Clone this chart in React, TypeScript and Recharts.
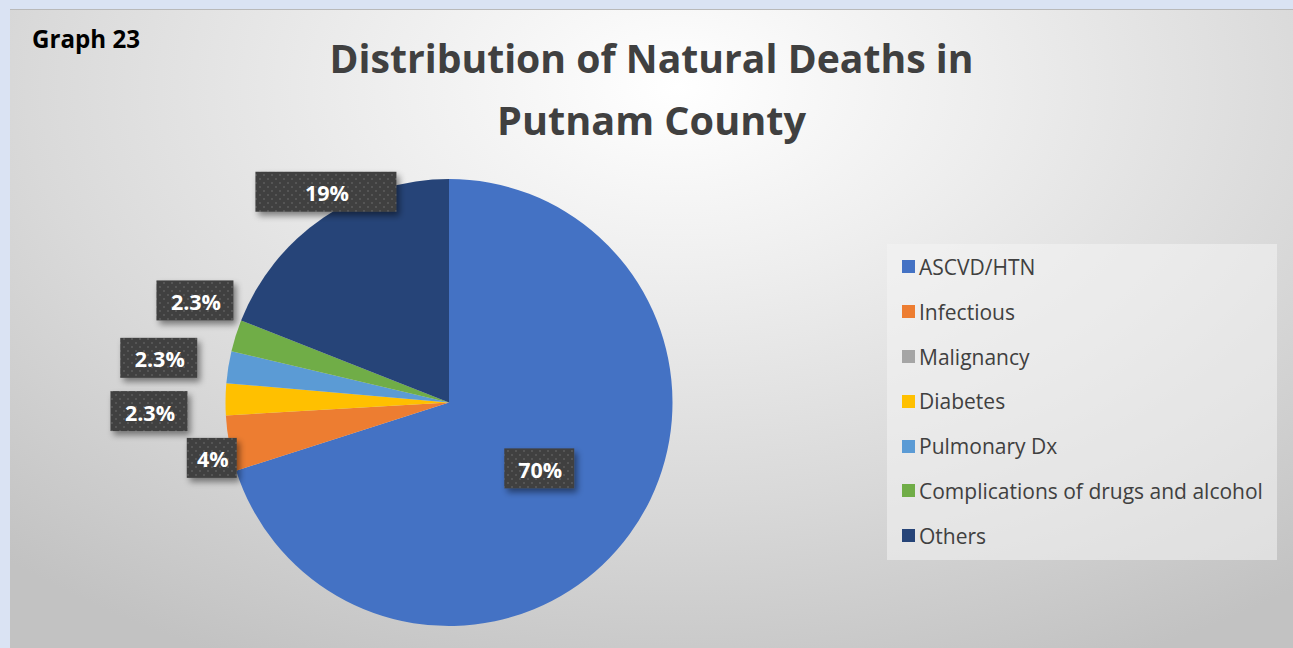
import React from "react";
import { PieChart, Pie, Cell, Legend } from "recharts";

const causes = [
  "ASCVD/HTN",
  "Infectious",
  "Malignancy",
  "Diabetes",
  "Pulmonary Dx",
  "Complications of drugs and alcohol",
  "Others",
];
const shares = [70, 4, 0, 2.3, 2.3, 2.3, 19];
const colors = ["#4472C4", "#ED7D31", "#A5A5A5", "#FFC000", "#5B9BD5", "#70AD47", "#264478"];

const data = causes.map((name, i) => ({ name, value: shares[i] }));

// where each data label box sits: k = distance as share of the pie radius, da = angle nudge, w = box width
const labelSpots = [
  { k: 0.5, da: 0, w: 70 },
  { k: 1.09, da: 2.6, w: 50 },
  { k: 0, da: 0, w: 0 },
  { k: 1.343, da: 2.45, w: 77 },
  { k: 1.314, da: 0.35, w: 77 },
  { k: 1.225, da: -4.5, w: 77 },
  { k: 1.092, da: -3.95, w: 141 },
];

const RAD = Math.PI / 180;
const FONT = "'Open Sans', 'Noto Sans', sans-serif";

const renderLabel = (props: any) => {
  const { cx, cy, midAngle, outerRadius, index, value } = props;
  if (!value) return null;
  const spot = labelSpots[index];
  const a = (midAngle + spot.da) * RAD;
  const x = cx + outerRadius * spot.k * Math.cos(a);
  const y = cy - outerRadius * spot.k * Math.sin(a);
  return (
    <g>
      <rect
        x={x - spot.w / 2}
        y={y - 20}
        width={spot.w}
        height={40}
        fill="url(#dots)"
        filter="url(#boxShadow)"
      />
      <text
        x={x + 1}
        y={y + 1}
        textAnchor="middle"
        dominantBaseline="central"
        fill="#ffffff"
        fontSize={21.5}
        fontWeight={700}
        fontFamily={FONT}
      >
        {value}%
      </text>
    </g>
  );
};

const renderLegend = () => (
  <div
    style={{
      width: 390,
      height: 316,
      boxSizing: "border-box",
      paddingTop: 0.6,
      background: "rgba(244,244,244,0.55)",
      fontFamily: FONT,
      fontSize: 21,
      color: "#404040",
    }}
  >
    {causes.map((c, i) => (
      <div key={c} style={{ height: 44.8, display: "flex", alignItems: "center" }}>
        <span
          style={{
            display: "inline-block",
            width: 13,
            height: 13,
            marginLeft: 15,
            marginRight: 4,
            background: colors[i],
          }}
        />
        <span style={{ whiteSpace: "nowrap" }}>{c}</span>
      </div>
    ))}
  </div>
);

export default function App() {
  return (
    <div
      style={{
        position: "absolute",
        left: 0,
        top: 0,
        width: 1293,
        height: 648,
        background: "#dae3f3",
        overflow: "hidden",
      }}
    >
      <div
        style={{
          position: "absolute",
          left: 10,
          top: 9,
          width: 1283,
          height: 639,
          borderTop: "1px solid #b9b9b9",
          boxSizing: "border-box",
          background:
            "radial-gradient(ellipse 78% 100% at 52% 12%, #ffffff 0%, #eeeeee 30%, #d9d9d9 65%, #c2c2c2 100%)",
        }}
      >
        <PieChart
          width={1283}
          height={639}
          margin={{ top: 0, right: 0, bottom: 0, left: 0 }}
          style={{ position: "absolute", left: 0, top: -1 }}
        >
          <defs>
            <pattern id="dots" width={8} height={8} patternUnits="userSpaceOnUse">
              <rect width={8} height={8} fill="#404040" />
              <rect x={1} y={1} width={2} height={2} fill="#555555" />
              <rect x={5} y={5} width={2} height={2} fill="#555555" />
            </pattern>
            <filter id="boxShadow" x="-20%" y="-30%" width="150%" height="180%">
              <feDropShadow dx={3} dy={4} stdDeviation={3} floodColor="#000" floodOpacity={0.45} />
            </filter>
          </defs>
          <text x={22} y={39} fontFamily={FONT} fontWeight={700} fontSize={25} fill="#000" textLength={108} lengthAdjust="spacingAndGlyphs">
            Graph 23
          </text>
          <text x={641.5} y={64} textAnchor="middle" fontFamily={FONT} fontWeight={700} fontSize={39} fill="#404040" textLength={644} lengthAdjust="spacingAndGlyphs">
            Distribution of Natural Deaths in
          </text>
          <text x={641.5} y={126} textAnchor="middle" fontFamily={FONT} fontWeight={700} fontSize={39} fill="#404040" textLength={309} lengthAdjust="spacingAndGlyphs">
            Putnam County
          </text>
          <Pie
            data={data}
            dataKey="value"
            nameKey="name"
            cx={439}
            cy={393.5}
            outerRadius={223.5}
            startAngle={90}
            endAngle={-270}
            stroke="none"
            label={renderLabel}
            labelLine={false}
            isAnimationActive={false}
          >
            {data.map((d, i) => (
              <Cell key={d.name} fill={colors[i]} />
            ))}
          </Pie>
          <Legend
            content={renderLegend}
            wrapperStyle={{ left: 877, top: 235, width: 390, height: 316 }}
          />
        </PieChart>
      </div>
    </div>
  );
}
